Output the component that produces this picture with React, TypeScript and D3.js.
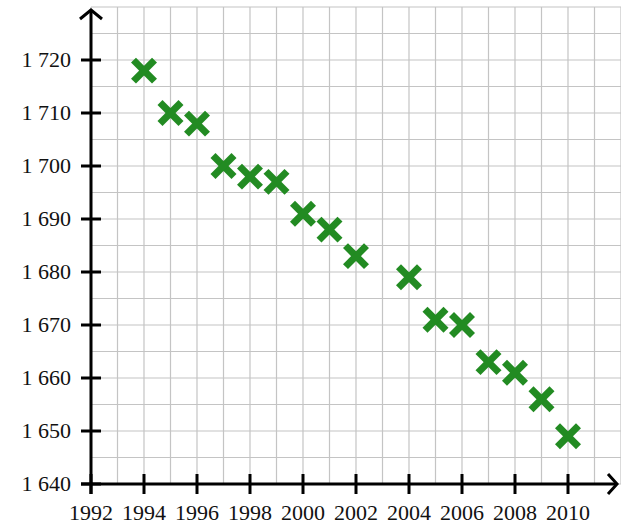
import React from "react";
import * as d3 from "d3";

const years = [1994, 1995, 1996, 1997, 1998, 1999, 2000, 2001, 2002, 2004, 2005, 2006, 2007, 2008, 2009, 2010];
const values = [1718, 1710, 1708, 1700, 1698, 1697, 1691, 1688, 1683, 1679, 1671, 1670, 1663, 1661, 1656, 1649];
const xTicks = [1992, 1994, 1996, 1998, 2000, 2002, 2004, 2006, 2008, 2010];
const yTicks = [1640, 1650, 1660, 1670, 1680, 1690, 1700, 1710, 1720];

const W = 621;
const H = 525;

export default function App() {
  const x = d3.scaleLinear().domain([1992, 2012]).range([91, 621]);
  const y = d3.scaleLinear().domain([1640, 1730]).range([484, 7]);
  const gridX = d3.range(1992, 2013, 1);
  const gridY = d3.range(1640, 1731, 5);
  const fmt = (v: number) => {
    const s = String(v);
    return s.slice(0, 1) + " " + s.slice(1);
  };
  const green = "#228B22";
  const ax = x(1992);
  const ay = y(1640);
  const m = 10.5;
  return (
    <svg width={W} height={H} style={{ position: "absolute", left: 0, top: 0 }}>
      <rect width={W} height={H} fill="#fff" />
      <g stroke="#c4c4c4" strokeWidth={1.2}>
        {gridX.map((g) => (
          <line key={"gx" + g} x1={x(g)} x2={x(g)} y1={y(1730)} y2={ay} />
        ))}
        {gridY.map((g) => (
          <line key={"gy" + g} x1={ax} x2={x(2012)} y1={y(g)} y2={y(g)} />
        ))}
      </g>
      <g stroke="#000" strokeWidth={3} fill="none">
        <line x1={ax} x2={ax} y1={ay + 10} y2={10} />
        <line x1={ax - 10} x2={617} y1={ay} y2={ay} />
        <path d={`M${ax - 11},${19} L${ax},${10} L${ax + 11},${19}`} strokeLinejoin="miter" />
        <path d={`M${608},${ay - 10} L${617},${ay} L${608},${ay + 10}`} strokeLinejoin="miter" />
        {yTicks.map((t) => (
          <line key={"yt" + t} x1={ax - 10} x2={ax + 10} y1={y(t)} y2={y(t)} />
        ))}
        {xTicks.map((t) => (
          <line key={"xt" + t} x1={x(t)} x2={x(t)} y1={ay - 10} y2={ay + 10} />
        ))}
      </g>
      <g fontFamily="Liberation Serif" fontSize={22} fill="#111" textAnchor="end">
        {yTicks.map((t) => (
          <text key={"yl" + t} x={71} y={y(t)} dy="0.33em">
            {fmt(t)}
          </text>
        ))}
      </g>
      <g fontFamily="Liberation Serif" fontSize={22} fill="#111" textAnchor="middle">
        {xTicks.map((t) => (
          <text key={"xl" + t} x={x(t)} y={520}>
            {t}
          </text>
        ))}
      </g>
      <g stroke={green} strokeWidth={7} strokeLinecap="butt">
        {years.map((yr, i) => {
          const cx = x(yr);
          const cy = y(values[i]);
          return (
            <g key={"m" + yr}>
              <line x1={cx - m} y1={cy - m} x2={cx + m} y2={cy + m} />
              <line x1={cx - m} y1={cy + m} x2={cx + m} y2={cy - m} />
            </g>
          );
        })}
      </g>
    </svg>
  );
}
